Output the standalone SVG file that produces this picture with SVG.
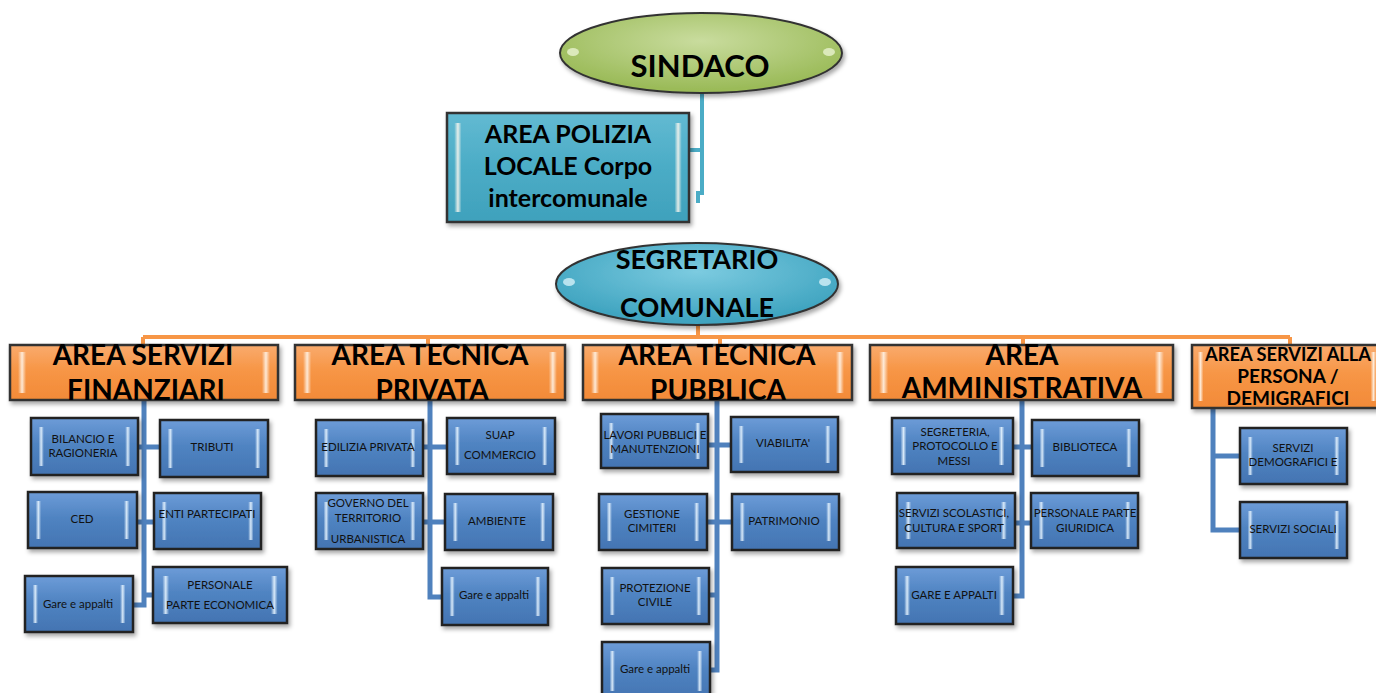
<svg xmlns="http://www.w3.org/2000/svg" width="1376" height="693" viewBox="0 0 1376 693">
<defs>
<linearGradient id="gBlue" x1="0" y1="0" x2="0" y2="1">
<stop offset="0" stop-color="#6d9cd8"/><stop offset="0.45" stop-color="#5084c2"/><stop offset="1" stop-color="#4374b2"/>
</linearGradient>
<linearGradient id="gOrange" x1="0" y1="0" x2="0" y2="1">
<stop offset="0" stop-color="#f9ab6e"/><stop offset="0.45" stop-color="#f79646"/><stop offset="1" stop-color="#f28a38"/>
</linearGradient>
<linearGradient id="gTeal" x1="0" y1="0" x2="0" y2="1">
<stop offset="0" stop-color="#62bad2"/><stop offset="0.5" stop-color="#4bacc6"/><stop offset="1" stop-color="#3fa1bc"/>
</linearGradient>
<linearGradient id="gStripS" x1="0" y1="0" x2="1" y2="0">
<stop offset="0.07" stop-color="#e6f4ff" stop-opacity="0"/>
<stop offset="0.095" stop-color="#e6f4ff" stop-opacity="0.9"/>
<stop offset="0.12" stop-color="#e6f4ff" stop-opacity="0"/>
<stop offset="0.88" stop-color="#e6f4ff" stop-opacity="0"/>
<stop offset="0.905" stop-color="#e6f4ff" stop-opacity="0.9"/>
<stop offset="0.93" stop-color="#e6f4ff" stop-opacity="0"/>
</linearGradient>
<linearGradient id="gStripL" x1="0" y1="0" x2="1" y2="0">
<stop offset="0.03" stop-color="#fff8ef" stop-opacity="0"/>
<stop offset="0.045" stop-color="#fff8ef" stop-opacity="0.85"/>
<stop offset="0.06" stop-color="#fff8ef" stop-opacity="0"/>
<stop offset="0.94" stop-color="#fff8ef" stop-opacity="0"/>
<stop offset="0.955" stop-color="#fff8ef" stop-opacity="0.85"/>
<stop offset="0.97" stop-color="#fff8ef" stop-opacity="0"/>
</linearGradient>
<radialGradient id="gGreen" cx="0.5" cy="0.35" r="0.6">
<stop offset="0" stop-color="#c9dc9e"/><stop offset="1" stop-color="#9bbb59"/>
</radialGradient>
<radialGradient id="gSeg" cx="0.5" cy="0.35" r="0.6">
<stop offset="0" stop-color="#7ccbe0"/><stop offset="1" stop-color="#3fa4c0"/>
</radialGradient>
<filter id="sh" x="-10%" y="-10%" width="125%" height="130%">
<feDropShadow dx="2" dy="3" stdDeviation="2" flood-color="#000" flood-opacity="0.35"/>
</filter>
</defs>
<style>
.bx{fill:url(#gBlue);stroke:#222;stroke-width:2.5;filter:url(#sh)}
.ob{fill:url(#gOrange);stroke:#333;stroke-width:2.5;filter:url(#sh)}
.tb{fill:url(#gTeal);stroke:#333;stroke-width:2.5;filter:url(#sh)}
.ss{fill:url(#gStripS)}
.sl{fill:url(#gStripL)}
.s{font-family:Lato,"Liberation Sans",sans-serif;font-size:11.5px;fill:#111;text-anchor:middle}
.h{font-family:Lato,"Liberation Sans",sans-serif;font-size:28px;font-weight:bold;fill:#000;text-anchor:middle}
.oc{fill:none;stroke:#f79646;stroke-width:4}
.bc{fill:none;stroke:#4f81bd;stroke-width:5}
.tc{fill:none;stroke:#4bacc6;stroke-width:4}
</style>

<g id="connectors">
<path class="tc" d="M702 93 V193 H698 V203 M689 150 H702"/>
<path class="oc" d="M698 325 V337 M143 337 H1290 M143 337 V345 M428 337 V345 M720 337 V345 M1023 337 V345 M1290 337 V345"/>
<path class="bc" d="M144 400 V605 H133 M138 447 H160 M137 522 H154 M144 595 H153"/>
<path class="bc" d="M430 400 V597 H442 M423 447 H447 M423 522 H445"/>
<path class="bc" d="M717 400 V670 H710 M708 445 H731 M707 522 H732 M709 595 H717"/>
<path class="bc" d="M1022 400 V596 H1013 M1013 447 H1032 M1015 523 H1031"/>
<path class="bc" d="M1213 408 V530 H1240 M1213 456 H1240"/>
</g>

<g id="sindaco">
<ellipse cx="701" cy="53" rx="141" ry="40" fill="url(#gGreen)" stroke="#333" stroke-width="2" filter="url(#sh)"/>
<ellipse cx="573" cy="52" rx="6" ry="4" fill="#e8f2cf" opacity="0.8"/>
<ellipse cx="829" cy="52" rx="6" ry="4" fill="#e8f2cf" opacity="0.8"/>
<text class="h" x="700" y="77" style="font-size:31px">SINDACO</text>
</g>

<g id="polizia">
<rect class="tb" x="447" y="113" width="242" height="109"/>
<rect class="sl" x="447" y="123" width="242" height="89"/>
<text class="h" x="568" y="143" style="font-size:25px">AREA POLIZIA</text>
<text class="h" x="568" y="175" style="font-size:25px">LOCALE Corpo</text>
<text class="h" x="568" y="207" style="font-size:25px">intercomunale</text>
</g>

<g id="segretario">
<ellipse cx="697" cy="284" rx="141" ry="41" fill="url(#gSeg)" stroke="#333" stroke-width="2" filter="url(#sh)"/>
<ellipse cx="569" cy="282" rx="6" ry="4" fill="#d5f0f8" opacity="0.8"/>
<ellipse cx="825" cy="282" rx="6" ry="4" fill="#d5f0f8" opacity="0.8"/>
<text class="h" x="697" y="269" style="font-size:27px">SEGRETARIO</text>
<text class="h" x="697" y="317" style="font-size:27px">COMUNALE</text>
</g>

<g id="area-finanziari">
<rect class="ob" x="10" y="345" width="268" height="55"/>
<rect class="sl" x="10" y="352" width="268" height="41"/>
<text class="h" x="143" y="365">AREA SERVIZI</text>
<text class="h" x="146" y="400">FINANZIARI</text>
</g>
<g id="area-privata">
<rect class="ob" x="295" y="345" width="270" height="55"/>
<rect class="sl" x="295" y="352" width="270" height="41"/>
<text class="h" x="430" y="365">AREA TECNICA</text>
<text class="h" x="432" y="400">PRIVATA</text>
</g>
<g id="area-pubblica">
<rect class="ob" x="583" y="345" width="269" height="55"/>
<rect class="sl" x="583" y="352" width="269" height="41"/>
<text class="h" x="717" y="365">AREA TECNICA</text>
<text class="h" x="718" y="400">PUBBLICA</text>
</g>
<g id="area-amministrativa">
<rect class="ob" x="870" y="345" width="303" height="55"/>
<rect class="sl" x="870" y="352" width="303" height="41"/>
<text class="h" x="1022" y="365">AREA</text>
<text class="h" x="1022" y="398">AMMINISTRATIVA</text>
</g>
<g id="area-persona">
<rect class="ob" x="1192" y="345" width="190" height="63"/>
<rect class="sl" x="1192" y="352" width="190" height="49"/>
<text class="h" x="1288" y="361" style="font-size:19px" textLength="166" lengthAdjust="spacingAndGlyphs">AREA SERVIZI ALLA</text>
<text class="h" x="1288" y="383" style="font-size:19px">PERSONA /</text>
<text class="h" x="1288" y="405" style="font-size:19px">DEMIGRAFICI</text>
</g>

<g id="bilancio"><rect class="bx" x="31" y="418" width="107" height="57"/><rect class="ss" x="31" y="427" width="107" height="39"/>
<text class="s" x="83" y="443">BILANCIO E</text><text class="s" x="83" y="457">RAGIONERIA</text></g>
<g id="tributi"><rect class="bx" x="160" y="420" width="108" height="57"/><rect class="ss" x="160" y="429" width="108" height="39"/>
<text class="s" x="212" y="451">TRIBUTI</text></g>
<g id="ced"><rect class="bx" x="28" y="492" width="109" height="56"/><rect class="ss" x="28" y="501" width="109" height="38"/>
<text class="s" x="82" y="523">CED</text></g>
<g id="enti"><rect class="bx" x="154" y="493" width="107" height="56"/><rect class="ss" x="154" y="502" width="107" height="38"/>
<text class="s" x="207" y="518">ENTI PARTECIPATI</text></g>
<g id="gare-fin"><rect class="bx" x="25" y="576" width="108" height="56"/><rect class="ss" x="25" y="585" width="108" height="38"/>
<text class="s" x="78" y="608">Gare e appalti</text></g>
<g id="personale-econ"><rect class="bx" x="153" y="567" width="134" height="56"/><rect class="ss" x="153" y="576" width="134" height="38"/>
<text class="s" x="220" y="589">PERSONALE</text><text class="s" x="220" y="609">PARTE ECONOMICA</text></g>

<g id="edilizia"><rect class="bx" x="316" y="420" width="107" height="56"/><rect class="ss" x="316" y="429" width="107" height="38"/>
<text class="s" x="368" y="451">EDILIZIA PRIVATA</text></g>
<g id="suap"><rect class="bx" x="447" y="418" width="108" height="56"/><rect class="ss" x="447" y="427" width="108" height="38"/>
<text class="s" x="500" y="439">SUAP</text><text class="s" x="500" y="459">COMMERCIO</text></g>
<g id="governo"><rect class="bx" x="316" y="493" width="107" height="56"/><rect class="ss" x="316" y="502" width="107" height="38"/>
<text class="s" x="368" y="507">GOVERNO DEL</text><text class="s" x="368" y="522">TERRITORIO</text><text class="s" x="368" y="543">URBANISTICA</text></g>
<g id="ambiente"><rect class="bx" x="445" y="494" width="108" height="56"/><rect class="ss" x="445" y="503" width="108" height="38"/>
<text class="s" x="497" y="525">AMBIENTE</text></g>
<g id="gare-priv"><rect class="bx" x="442" y="568" width="106" height="57"/><rect class="ss" x="442" y="577" width="106" height="39"/>
<text class="s" x="494" y="599">Gare e appalti</text></g>

<g id="lavori"><rect class="bx" x="601" y="414" width="107" height="54"/><rect class="ss" x="601" y="423" width="107" height="36"/>
<text class="s" x="655" y="439">LAVORI PUBBLICI E</text><text class="s" x="655" y="453">MANUTENZIONI</text></g>
<g id="viabilita"><rect class="bx" x="731" y="417" width="107" height="55"/><rect class="ss" x="731" y="426" width="107" height="37"/>
<text class="s" x="783" y="447">VIABILITA'</text></g>
<g id="cimiteri"><rect class="bx" x="599" y="494" width="108" height="56"/><rect class="ss" x="599" y="503" width="108" height="38"/>
<text class="s" x="652" y="518">GESTIONE</text><text class="s" x="652" y="532">CIMITERI</text></g>
<g id="patrimonio"><rect class="bx" x="732" y="494" width="107" height="56"/><rect class="ss" x="732" y="503" width="107" height="38"/>
<text class="s" x="784" y="525">PATRIMONIO</text></g>
<g id="protezione"><rect class="bx" x="602" y="568" width="107" height="56"/><rect class="ss" x="602" y="577" width="107" height="38"/>
<text class="s" x="655" y="592">PROTEZIONE</text><text class="s" x="655" y="606">CIVILE</text></g>
<g id="gare-pub"><rect class="bx" x="602" y="642" width="108" height="58"/><rect class="ss" x="602" y="651" width="108" height="40"/>
<text class="s" x="655" y="673">Gare e appalti</text></g>

<g id="segreteria"><rect class="bx" x="892" y="418" width="121" height="56"/><rect class="ss" x="892" y="427" width="121" height="38"/>
<text class="s" x="955" y="436">SEGRETERIA,</text><text class="s" x="955" y="450">PROTOCOLLO E</text><text class="s" x="954" y="465">MESSI</text></g>
<g id="biblioteca"><rect class="bx" x="1032" y="420" width="107" height="56"/><rect class="ss" x="1032" y="429" width="107" height="38"/>
<text class="s" x="1085" y="451">BIBLIOTECA</text></g>
<g id="scolastici"><rect class="bx" x="897" y="493" width="118" height="55"/><rect class="ss" x="897" y="502" width="118" height="37"/>
<text class="s" x="954" y="517">SERVIZI SCOLASTICI,</text><text class="s" x="954" y="532">CULTURA E SPORT</text></g>
<g id="personale-giur"><rect class="bx" x="1031" y="493" width="107" height="55"/><rect class="ss" x="1031" y="502" width="107" height="37"/>
<text class="s" x="1085" y="517">PERSONALE PARTE</text><text class="s" x="1085" y="532">GIURIDICA</text></g>
<g id="gare-amm"><rect class="bx" x="896" y="567" width="117" height="57"/><rect class="ss" x="896" y="576" width="117" height="39"/>
<text class="s" x="954" y="599">GARE E APPALTI</text></g>

<g id="demografici"><rect class="bx" x="1240" y="428" width="107" height="56"/><rect class="ss" x="1240" y="437" width="107" height="38"/>
<text class="s" x="1293" y="452">SERVIZI</text><text class="s" x="1293" y="466">DEMOGRAFICI E</text></g>
<g id="sociali"><rect class="bx" x="1240" y="502" width="107" height="56"/><rect class="ss" x="1240" y="511" width="107" height="38"/>
<text class="s" x="1293" y="533">SERVIZI SOCIALI</text></g>
</svg>
